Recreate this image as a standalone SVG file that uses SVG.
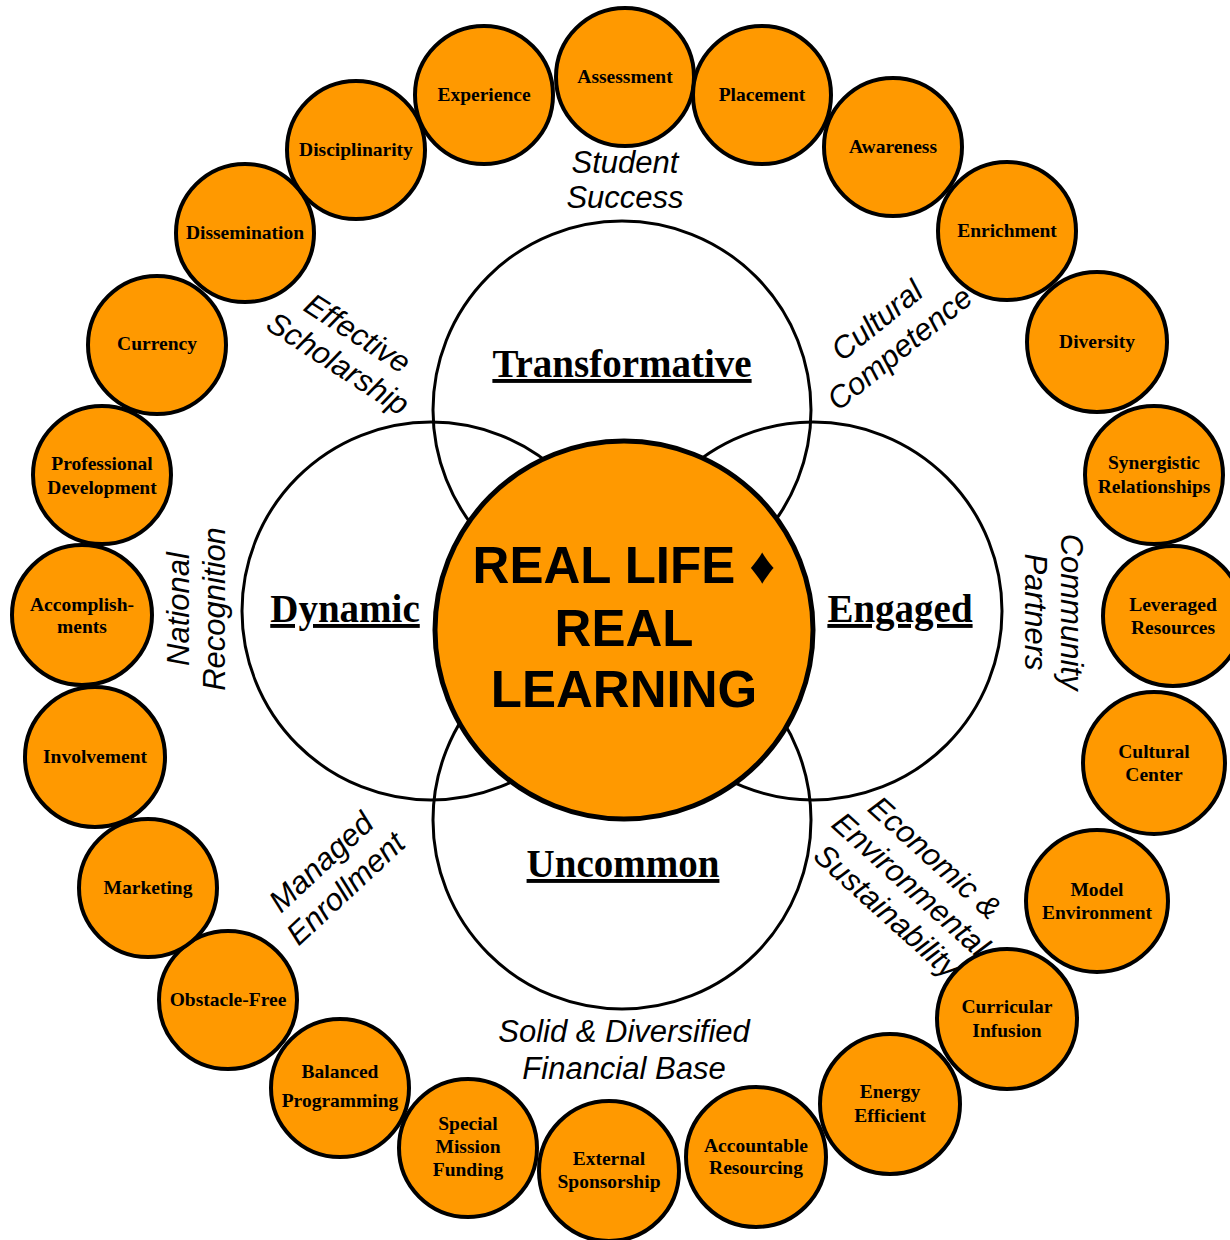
<svg xmlns="http://www.w3.org/2000/svg" width="1230" height="1240" viewBox="0 0 1230 1240">
  <style>
    .venn { fill: none; stroke: #000; stroke-width: 3; }
    .core { fill: #FF9900; stroke: #000; stroke-width: 5; }
    .core-text { font-family: "Liberation Sans", Arial, "DejaVu Sans", sans-serif; font-weight: bold; font-size: 51px; fill: #000; text-anchor: middle; }
    .pillar { font-family: "Liberation Serif", "Times New Roman", serif; font-weight: bold; font-size: 39px; fill: #000; text-anchor: middle; text-decoration: underline; }
    .theme { font-family: "Liberation Sans", Arial, sans-serif; font-style: italic; font-size: 31px; fill: #000; text-anchor: middle; }
    .bub { fill: #FF9900; stroke: #000; stroke-width: 4; }
    .bub-text { font-family: "Liberation Serif", "Times New Roman", serif; font-weight: bold; font-size: 19.5px; fill: #000; text-anchor: middle; }
  </style>

  <!-- four overlapping pillar circles -->
  <g id="transformative">
    <circle class="venn" cx="622" cy="410" r="189"/>
    <text class="pillar" x="622" y="377">Transformative</text>
  </g>
  <g id="dynamic">
    <circle class="venn" cx="431" cy="611" r="189"/>
    <text class="pillar" x="345" y="622">Dynamic</text>
  </g>
  <g id="engaged">
    <circle class="venn" cx="813" cy="611" r="189"/>
    <text class="pillar" x="900" y="622">Engaged</text>
  </g>
  <g id="uncommon">
    <circle class="venn" cx="622" cy="820" r="189"/>
    <text class="pillar" x="623" y="877">Uncommon</text>
  </g>

  <!-- central hub -->
  <g id="core">
    <circle class="core" cx="624" cy="630" r="189"/>
    <text class="core-text" x="624" y="583">REAL LIFE ♦</text>
    <text class="core-text" x="624" y="646">REAL</text>
    <text class="core-text" x="624" y="707">LEARNING</text>
  </g>

  <!-- theme labels around the ring -->
  <g id="themes">
    <text class="theme" x="625" y="173">Student</text>
    <text class="theme" x="625" y="208">Success</text>

    <g transform="translate(888 334) rotate(-39)">
      <text class="theme" x="0" y="-7">Cultural</text>
      <text class="theme" x="0" y="29">Competence</text>
    </g>

    <g transform="translate(1054 612) rotate(90)">
      <text class="theme" x="0" y="-7">Community</text>
      <text class="theme" x="0" y="29">Partners</text>
    </g>

    <g transform="translate(911 884) rotate(42)">
      <text class="theme" x="0" y="-25">Economic &amp;</text>
      <text class="theme" x="0" y="11">Environmental</text>
      <text class="theme" x="0" y="47">Sustainability</text>
    </g>

    <text class="theme" x="624" y="1042">Solid &amp; Diversified</text>
    <text class="theme" x="624" y="1079">Financial Base</text>

    <g transform="translate(333 875) rotate(-43)">
      <text class="theme" x="0" y="-7">Managed</text>
      <text class="theme" x="0" y="29">Enrollment</text>
    </g>

    <g transform="translate(196 609) rotate(-90)">
      <text class="theme" x="0" y="-7">National</text>
      <text class="theme" x="0" y="29">Recognition</text>
    </g>

    <g transform="translate(348 348) rotate(33)">
      <text class="theme" x="0" y="-7">Effective</text>
      <text class="theme" x="0" y="29">Scholarship</text>
    </g>
  </g>

  <!-- outer ring of attribute bubbles -->
  <g id="assessment"><circle class="bub" cx="625" cy="77" r="69"/><text class="bub-text" x="625" y="83">Assessment</text></g>
  <g id="placement"><circle class="bub" cx="762" cy="95" r="69"/><text class="bub-text" x="762" y="101">Placement</text></g>
  <g id="awareness"><circle class="bub" cx="893" cy="147" r="69"/><text class="bub-text" x="893" y="153">Awareness</text></g>
  <g id="enrichment"><circle class="bub" cx="1007" cy="231" r="69"/><text class="bub-text" x="1007" y="237">Enrichment</text></g>
  <g id="diversity"><circle class="bub" cx="1097" cy="342" r="70"/><text class="bub-text" x="1097" y="348">Diversity</text></g>
  <g id="synergistic-relationships"><circle class="bub" cx="1154" cy="475" r="69"/><text class="bub-text" x="1154" y="469">Synergistic</text><text class="bub-text" x="1154" y="493">Relationships</text></g>
  <g id="leveraged-resources"><circle class="bub" cx="1173" cy="616" r="70"/><text class="bub-text" x="1173" y="611">Leveraged</text><text class="bub-text" x="1173" y="634">Resources</text></g>
  <g id="cultural-center"><circle class="bub" cx="1154" cy="763" r="71"/><text class="bub-text" x="1154" y="758">Cultural</text><text class="bub-text" x="1154" y="781">Center</text></g>
  <g id="model-environment"><circle class="bub" cx="1097" cy="901" r="71"/><text class="bub-text" x="1097" y="896">Model</text><text class="bub-text" x="1097" y="919">Environment</text></g>
  <g id="curricular-infusion"><circle class="bub" cx="1007" cy="1019" r="70"/><text class="bub-text" x="1007" y="1013">Curricular</text><text class="bub-text" x="1007" y="1037">Infusion</text></g>
  <g id="energy-efficient"><circle class="bub" cx="890" cy="1104" r="70"/><text class="bub-text" x="890" y="1098">Energy</text><text class="bub-text" x="890" y="1122">Efficient</text></g>
  <g id="accountable-resourcing"><circle class="bub" cx="756" cy="1157" r="70"/><text class="bub-text" x="756" y="1152">Accountable</text><text class="bub-text" x="756" y="1174">Resourcing</text></g>
  <g id="external-sponsorship"><circle class="bub" cx="609" cy="1171" r="70"/><text class="bub-text" x="609" y="1165">External</text><text class="bub-text" x="609" y="1188">Sponsorship</text></g>
  <g id="special-mission-funding"><circle class="bub" cx="468" cy="1148" r="69"/><text class="bub-text" x="468" y="1130">Special</text><text class="bub-text" x="468" y="1153">Mission</text><text class="bub-text" x="468" y="1176">Funding</text></g>
  <g id="balanced-programming"><circle class="bub" cx="340" cy="1088" r="69"/><text class="bub-text" x="340" y="1078">Balanced</text><text class="bub-text" x="340" y="1107">Programming</text></g>
  <g id="obstacle-free"><circle class="bub" cx="228" cy="1000" r="69"/><text class="bub-text" x="228" y="1006">Obstacle-Free</text></g>
  <g id="marketing"><circle class="bub" cx="148" cy="888" r="69"/><text class="bub-text" x="148" y="894">Marketing</text></g>
  <g id="involvement"><circle class="bub" cx="95" cy="757" r="70"/><text class="bub-text" x="95" y="763">Involvement</text></g>
  <g id="accomplishments"><circle class="bub" cx="82" cy="615" r="70"/><text class="bub-text" x="82" y="611">Accomplish-</text><text class="bub-text" x="82" y="633">ments</text></g>
  <g id="professional-development"><circle class="bub" cx="102" cy="475" r="69"/><text class="bub-text" x="102" y="470">Professional</text><text class="bub-text" x="102" y="494">Development</text></g>
  <g id="currency"><circle class="bub" cx="157" cy="345" r="69"/><text class="bub-text" x="157" y="350">Currency</text></g>
  <g id="dissemination"><circle class="bub" cx="245" cy="233" r="69"/><text class="bub-text" x="245" y="239">Dissemination</text></g>
  <g id="disciplinarity"><circle class="bub" cx="356" cy="150" r="69"/><text class="bub-text" x="356" y="156">Disciplinarity</text></g>
  <g id="experience"><circle class="bub" cx="484" cy="95" r="69"/><text class="bub-text" x="484" y="101">Experience</text></g>

  <!-- no connectors: the layout relies on overlap and placement -->
  <g id="connectors"/>
</svg>
